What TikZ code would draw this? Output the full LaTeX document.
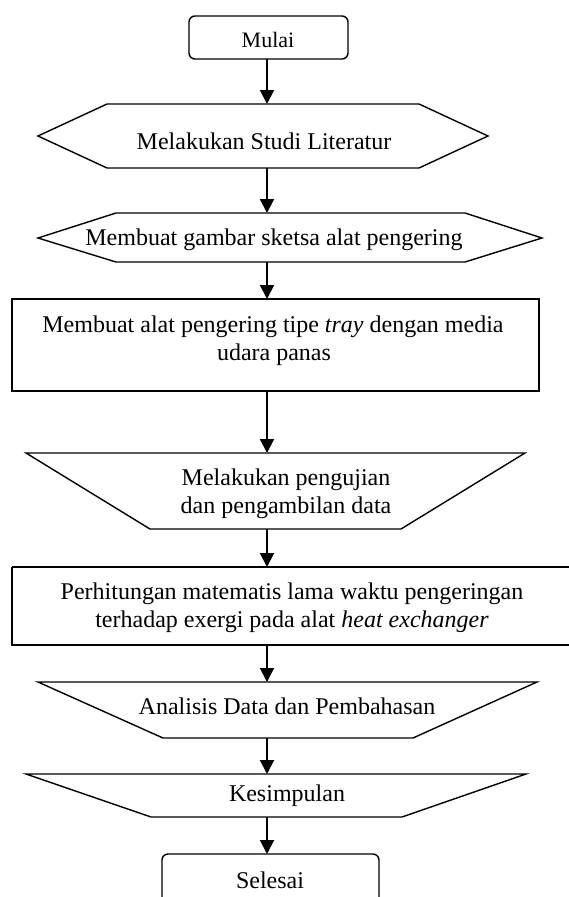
\documentclass[tikz,border=0pt]{standalone}
\usepackage{fontspec}
\setmainfont{Liberation Serif}
\usetikzlibrary{arrows.meta}
\begin{document}
\begin{tikzpicture}[x=1pt,y=-1pt,
  shapeline/.style={line width=1.4pt, line join=miter},
  flow/.style={line width=2pt, -{Triangle[width=14pt,length=14pt]}},
  lbl/.style={anchor=base, inner sep=0pt, font=\fontsize{24}{28}\selectfont},
  smalllbl/.style={anchor=base, inner sep=0pt, font=\fontsize{22}{25}\selectfont}]
\useasboundingbox (0,0) rectangle (568,897);
\fill[white] (0,0) rectangle (568,897);

% Mulai
\draw[shapeline, rounded corners=6pt] (189,16) rectangle (348,59);
\node[smalllbl] (mulai) at (268,47) {Mulai};
\coordinate (mulaiB) at (267,59);

% Hexagon 1
\draw[shapeline] (38,136) -- (107,104) -- (419,104) -- (488,136) -- (419,168) -- (107,168) -- cycle;
\node[lbl] (studi) at (264,149) {Melakukan Studi Literatur};
\coordinate (hexAT) at (267,104);
\coordinate (hexAB) at (267,168);

% Hexagon 2
\draw[shapeline] (38,238) -- (116,213) -- (465,213) -- (542,238) -- (465,262) -- (116,262) -- cycle;
\node[lbl] (sketsa) at (274,245) {Membuat gambar sketsa alat pengering};
\coordinate (hexBT) at (267,213);
\coordinate (hexBB) at (267,262);

% Rect 1
\draw[shapeline] (12,299) rectangle (539,391);
\node[lbl] (alatA) at (273,332) {Membuat alat pengering tipe \textit{tray} dengan media};
\node[lbl] (alatB) at (274,360) {udara panas};
\coordinate (recAT) at (267,299);
\coordinate (recAB) at (267,391);

% Trapezoid 1
\draw[shapeline] (26,453) -- (525,453) -- (401,529) -- (150,529) -- cycle;
\node[lbl] (ujiA) at (286,485) {Melakukan pengujian};
\node[lbl] (ujiB) at (286,513) {dan pengambilan data};
\coordinate (trAT) at (267,453);
\coordinate (trAB) at (267,529);

% Rect 2
\draw[shapeline] (12,567) -- (580,567) (12,567) -- (12,645) -- (580,645);
\node[lbl] (hitA) at (292,599) {Perhitungan matematis lama waktu pengeringan};
\node[lbl] (hitB) at (292,627) {terhadap exergi pada alat \textit{heat exchanger}};
\coordinate (recBT) at (267,567);
\coordinate (recBB) at (267,645);

% Trapezoid 2
\draw[shapeline] (38,682) -- (537,682) -- (413,738) -- (163,738) -- cycle;
\node[lbl] (analisis) at (287,714) {Analisis Data dan Pembahasan};
\coordinate (trBT) at (267,682);
\coordinate (trBB) at (267,738);

% Trapezoid 3
\draw[shapeline] (26,774) -- (526,774) -- (402,817) -- (151,817) -- cycle;
\node[lbl] (kesimpulan) at (287,801) {Kesimpulan};
\coordinate (trCT) at (267,774);
\coordinate (trCB) at (267,817);

% Selesai
\draw[shapeline, rounded corners=6pt] (162,910) -- (162,854) -- (379,854) -- (379,910);
\node[lbl] (selesai) at (270,888) {Selesai};
\coordinate (selT) at (267,854);

% Connectors
\draw[flow] (mulaiB) -- (hexAT);
\draw[flow] (hexAB) -- (hexBT);
\draw[flow] (hexBB) -- (recAT);
\draw[flow] (recAB) -- (trAT);
\draw[flow] (trAB) -- (recBT);
\draw[flow] (recBB) -- (trBT);
\draw[flow] (trBB) -- (trCT);
\draw[flow] (trCB) -- (selT);
\end{tikzpicture}
\end{document}
